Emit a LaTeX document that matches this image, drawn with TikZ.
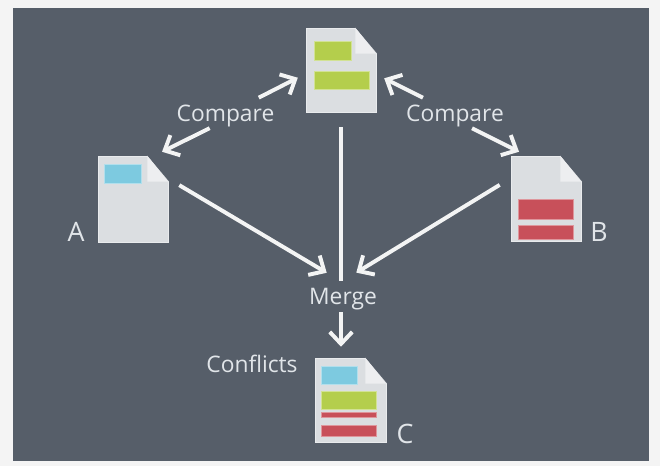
\documentclass[tikz,border=0pt]{standalone}
\usepackage{fontspec}
\setmainfont{Open Sans}
\usetikzlibrary{arrows.meta}
\usetikzlibrary{calc}

\definecolor{paper}{HTML}{F4F4F4}
\definecolor{slate}{HTML}{565E69}
\definecolor{sheet}{HTML}{DBDEE1}
\definecolor{flap}{HTML}{EDEEF0}
\definecolor{ink}{HTML}{E1E5E9}
\definecolor{leaf}{HTML}{B4CE4C}
\definecolor{sky}{HTML}{7DCAE0}
\definecolor{brick}{HTML}{C8505A}

\tikzset{
  docbox/.style={rectangle, fill=sheet, draw=sheet!60!white, line width=0.4pt, inner sep=0pt},
  caption/.style={text=ink, font=\fontsize{16.2}{18}\selectfont, inner sep=0pt, text depth=0pt},
  tag/.style={text=ink, font=\fontsize{19}{22}\selectfont, inner sep=0pt},
  flow/.style={draw=white!93!slate, line width=2.8pt, -{Straight Barb[length=8.5pt, width=16pt, line width=2.8pt]}},
  bar/.style={line width=0.6pt},
}

\newcommand{\foldcorner}[1]{
  \fill[slate] ($(#1.north east)+(-21,0)$) -- ($(#1.north east)+(1,-1)$) -- ($(#1.north east)+(1,26)$) -- cycle;
  \fill[flap] ($(#1.north east)+(-21,0)$) -- ($(#1.north east)+(0,26)$) -- ($(#1.north east)+(-21,26)$) -- cycle;
}

\begin{document}
\begin{tikzpicture}[x=0.025cm, y=-0.025cm]
      \useasboundingbox (0,0) rectangle (660,466);
      \fill[paper] (0,0) rectangle (660,466);
      \fill[slate] (13,8) rectangle (649,461);

      \node[docbox, minimum width=1.75cm, minimum height=2.1cm] (doctop) at (341,70) {};
      \node[docbox, minimum width=1.75cm, minimum height=2.15cm] (docA) at (133,199) {};
      \node[docbox, minimum width=1.75cm, minimum height=2.125cm] (docB) at (546,198.5) {};
      \node[docbox, minimum width=1.775cm, minimum height=2.1cm] (docC) at (350.5,400) {};
      \foldcorner{doctop}
      \foldcorner{docA}
      \foldcorner{docB}
      \foldcorner{docC}

      \draw[bar, fill=leaf, draw=leaf!60!white] (314,41) rectangle (351,60);
      \draw[bar, fill=leaf, draw=leaf!60!white] (314,71) rectangle (369,89);
      \draw[bar, fill=sky, draw=sky!60!white] (104,164) rectangle (141,183);
      \draw[bar, fill=brick, draw=brick!60!white] (518,199) rectangle (573,219);
      \draw[bar, fill=brick, draw=brick!60!white] (518,225) rectangle (573,239);
      \draw[bar, fill=sky, draw=sky!60!white] (321,366) rectangle (357,384);
      \draw[bar, fill=leaf, draw=leaf!60!white] (321,391) rectangle (376,409);
      \draw[bar, fill=brick, draw=brick!60!white] (321,412) rectangle (376,417);
      \draw[bar, fill=brick, draw=brick!60!white] (321,425) rectangle (376,436);

      \node[caption, minimum width=2.4cm, minimum height=0.55cm] (cmpL) at (225.5,113) {Compare};
      \node[caption, minimum width=2.4cm, minimum height=0.55cm] (cmpR) at (455,113) {Compare};
      \node[caption, minimum width=1.75cm, minimum height=0.5cm] (merge) at (343,296) {Merge};
      \node[caption] (conflicts) at (252,364) {Conflicts};
      \node[tag] (labelA) at (76,232) {A};
      \node[tag] (labelB) at (599,232) {B};
      \node[tag] (labelC) at (405,434) {C};

      \draw[flow, shorten <=6.3pt, shorten >=6.3pt] (cmpL.24.2) -- (doctop.186.5);
      \draw[flow, shorten <=6.3pt, shorten >=6.3pt] (cmpL.235.7) -- (docA.64);
      \draw[flow, shorten <=6.3pt, shorten >=6.3pt] (cmpR.155.4) -- (doctop.353.5);
      \draw[flow, shorten <=6.3pt, shorten >=6.3pt] (cmpR.309.3) -- (docB.114.1);

      \draw[flow, shorten <=9.1pt, shorten >=18pt] (docA.30.5) -- (merge.62.5);
      \draw[flow, shorten <=9.2pt, shorten >=17.8pt] (docB.150) -- (merge.128);
      \draw[draw=white!93!slate, line width=2.8pt, shorten <=10.7pt, shorten >=3.6pt] (doctop.south) -- (doctop.south |- merge.north);
      \draw[flow, shorten <=4.3pt, shorten >=7.8pt] (doctop.south |- merge.south) -- (doctop.south |- docC.north);
    \end{tikzpicture}
\end{document}
